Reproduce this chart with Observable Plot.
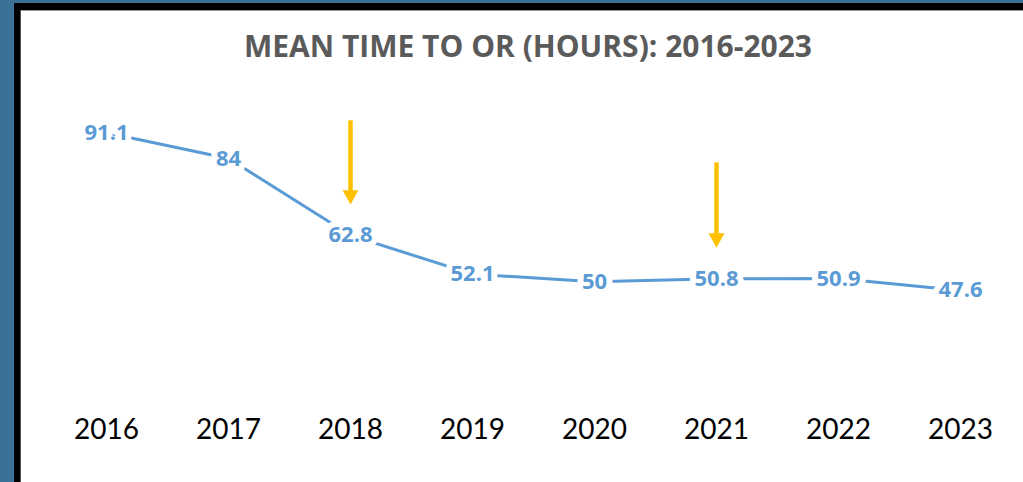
<!DOCTYPE html>
<html>
<head>
<meta charset="utf-8">
<script src="https://cdn.jsdelivr.net/npm/d3@7"></script>
<script src="https://cdn.jsdelivr.net/npm/@observablehq/plot@0.6"></script>
<style>
  html, body { margin: 0; padding: 0; background: #fff; }
  body { width: 1023px; height: 482px; position: relative; overflow: hidden; }
  .strip { position: absolute; }
  #blueTop { left: 0; top: 0; width: 1023px; height: 3px; background: #3b7197; }
  #blueLeft { left: 0; top: 0; width: 14px; height: 482px; background: #3b7197; }
  #blackTop { left: 14px; top: 3px; width: 1009px; height: 7px; background: #000; }
  #blackLeft { left: 14px; top: 3px; width: 6px; height: 479px; background: #000; }
  #grayTop { left: 20px; top: 10px; width: 1003px; height: 1px; background: #9a9a9a; }
  #grayLeft { left: 20px; top: 10px; width: 1px; height: 472px; background: #555; }
  #panel { position: absolute; left: 21px; top: 11px; width: 1002px; height: 471px; background: #fff; }
  #title { height: 80px; box-sizing: border-box; padding-top: 20px; width: 1002px; padding-left: 12px; text-align: center;
           font-family: "Open Sans", Lato, sans-serif; font-weight: 700; font-size: 30px; line-height: 30px;
           color: #5a5a5a; white-space: nowrap; }
  #chart svg { display: block; }
</style>
</head>
<body>
<div class="strip" id="blueTop"></div>
<div class="strip" id="blueLeft"></div>
<div class="strip" id="blackTop"></div>
<div class="strip" id="blackLeft"></div>
<div class="strip" id="grayTop"></div>
<div class="strip" id="grayLeft"></div>
<div id="panel">
  <div id="title"></div>
  <div id="chart"></div>
</div>
<script>
const titleText = "MEAN TIME TO OR (HOURS): 2016-2023";
const years = [2016, 2017, 2018, 2019, 2020, 2021, 2022, 2023];
const meanHours = [91.1, 84, 62.8, 52.1, 50, 50.8, 50.9, 47.6];
const arrowYears = [2018, 2021];
const arrowTop = [94.4, 82.8];
const arrowTip = [71.3, 59.4];

document.getElementById("title").textContent = titleText;

const data = years.map((year, i) => ({year, value: meanHours[i]}));
const arrows = arrowYears.map((year, i) => ({year, top: arrowTop[i], tip: arrowTip[i]}));

const downTriangle = {
  draw(context, size) {
    const a = Math.sqrt(size / Math.PI);
    const h = a * 1.8;
    context.moveTo(-a, -h);
    context.lineTo(a, -h);
    context.lineTo(0, 0);
    context.closePath();
  }
};

const chart = Plot.plot({
  width: 1002,
  height: 391,
  marginLeft: 83,
  marginRight: 62,
  marginTop: 9,
  marginBottom: 92,
  style: {background: "white", fontFamily: "Lato, sans-serif"},
  x: {type: "point", domain: years, padding: 0},
  y: {domain: [20, 100], axis: null},
  marks: [
    Plot.axisX({tickSize: 0, tickPadding: 29, fontSize: 28, fontFamily: "Lato", fill: "#000",
                tickFormat: d => String(d), label: null}),
    Plot.line(data, {x: "year", y: "value", stroke: "#5B9BD5", strokeWidth: 3}),
    Plot.text(data, {x: "year", y: "value", text: d => String(d.value), fill: "#5B9BD5",
                     stroke: "white", strokeWidth: 12, fontSize: 22, fontWeight: "bold",
                     fontFamily: "Open Sans"}),
    Plot.ruleX(arrows, {x: "year", y1: "top", y2: "tip", stroke: "#FFC000", strokeWidth: 4.5, insetBottom: 10}),
    Plot.dot(arrows, {x: "year", y: "tip", r: 8, symbol: downTriangle, fill: "#FFC000", stroke: "none"})
  ]
});
document.getElementById("chart").appendChild(chart);
</script>
</body>
</html>
